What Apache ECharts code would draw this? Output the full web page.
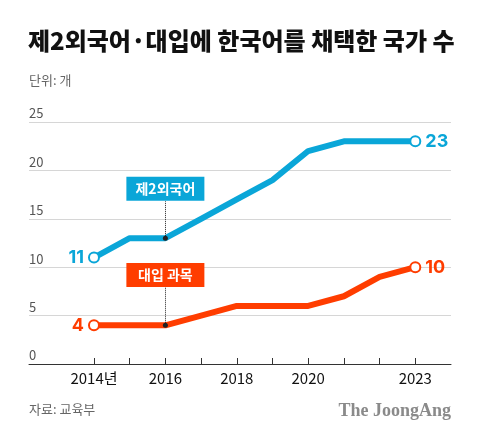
<!DOCTYPE html>
<html><head><meta charset="utf-8">
<script src="https://cdn.jsdelivr.net/npm/echarts@6/dist/echarts.min.js"></script>
<style>html,body{margin:0;padding:0;background:#fff}#c{width:480px;height:439px}</style>
</head><body><div id="c"></div>
<script>
const years = [2014, 2015, 2016, 2017, 2018, 2019, 2020, 2021, 2022, 2023];
const secondLang = [11, 13, 13, 15, 17, 19, 22, 23, 23, 23];
const examSubject = [4, 4, 4, 5, 6, 6, 6, 7, 9, 10];
const yTicks = [0, 5, 10, 15, 20, 25];
const xLabelYears = [2014, 2016, 2018, 2020, 2023];

const BLUE = '#0aa6d8', RED = '#ff3d00';
const FONT = '"Noto Sans CJK KR", sans-serif';

function build(vals, color) {
  return years.map((y, i) => {
    const end = (i === 0 || i === years.length - 1);
    const item = { value: [y, vals[i]] };
    if (end) {
      item.symbol = 'circle';
      item.symbolSize = 10;
      item.label = {
        show: true, position: i === 0 ? 'left' : 'right', distance: 4,
        color: color, fontSize: 18, fontWeight: 'bold', fontFamily: '"Inter", ' + FONT,
        formatter: String(vals[i])
      };
    } else {
      item.symbol = 'none';
    }
    return item;
  });
}

const chart = echarts.init(document.getElementById('c'));
chart.setOption({
  animation: false,
  title: [
    { text: '제2외국어·대입에 한국어를 채택한 국가 수', left: 28, top: 29, padding: 0,
      textStyle: { fontSize: 24, fontWeight: 900, color: '#111', fontFamily: FONT } },
    { text: '단위: 개', left: 29, top: 74, padding: 0,
      textStyle: { fontSize: 13, fontWeight: 'normal', color: '#666', fontFamily: FONT } },
    { text: '자료: 교육부', left: 29, top: 403, padding: 0,
      textStyle: { fontSize: 13, fontWeight: 'normal', color: '#666', fontFamily: FONT } },
    { text: 'The JoongAng', right: 29, top: 402, padding: 0,
      textStyle: { fontSize: 18, fontWeight: 'bold', color: '#8a8a8a', fontFamily: '"Liberation Serif", "DejaVu Serif", serif' } }
  ],
  grid: { left: 29, right: 29, top: 122, bottom: 75, containLabel: false },
  xAxis: {
    type: 'value', min: 2012.18, max: 2024,
    axisLine: { show: true, lineStyle: { color: '#333', width: 1 } },
    axisTick: { show: true, inside: true, length: 6, customValues: years, lineStyle: { color: '#333' } },
    axisLabel: {
      customValues: xLabelYears, margin: 7, color: '#111', fontSize: 15, fontFamily: FONT,
      formatter: v => (v === 2014 ? '2014년' : String(v))
    },
    splitLine: { show: false }
  },
  yAxis: {
    type: 'value', min: 0, max: 25, interval: 5,
    axisLine: { show: false }, axisTick: { show: false },
    axisLabel: { inside: true, margin: 0, verticalAlign: 'bottom', padding: [0, 0, 2, 0],
      color: '#555', fontSize: 13, fontFamily: FONT, customValues: yTicks },
    splitLine: { show: true, lineStyle: { color: '#d6d6d6', width: 1 } }
  },
  series: [
    {
      type: 'line', data: build(secondLang, BLUE),
      lineStyle: { color: BLUE, width: 6 },
      itemStyle: { color: '#fff', borderColor: BLUE, borderWidth: 2 },
      z: 3,
      markLine: {
        silent: true, symbol: ['circle', 'none'], symbolSize: 5,
        lineStyle: { type: 'dotted', color: '#222', width: 1 },
        label: { show: false },
        data: [[{ coord: [2016, 13] }, { coord: [2016, 16.8] }]]
      },
      markPoint: {
        silent: true,
        data: [{ coord: [2016, 18.1], symbol: 'rect', symbolSize: [78, 24],
          itemStyle: { color: BLUE },
          label: { show: true, position: 'inside', formatter: '제2외국어', color: '#fff', fontSize: 14, fontWeight: 'bold', fontFamily: FONT } }]
      }
    },
    {
      type: 'line', data: build(examSubject, RED),
      lineStyle: { color: RED, width: 6 },
      itemStyle: { color: '#fff', borderColor: RED, borderWidth: 2 },
      z: 3,
      markLine: {
        silent: true, symbol: ['circle', 'none'], symbolSize: 5,
        lineStyle: { type: 'dotted', color: '#222', width: 1 },
        label: { show: false },
        data: [[{ coord: [2016, 4] }, { coord: [2016, 8.0] }]]
      },
      markPoint: {
        silent: true,
        data: [{ coord: [2016, 9.2], symbol: 'rect', symbolSize: [78, 24],
          itemStyle: { color: RED },
          label: { show: true, position: 'inside', formatter: '대입 과목', color: '#fff', fontSize: 14, fontWeight: 'bold', fontFamily: FONT } }]
      }
    }
  ]
});
</script></body></html>
